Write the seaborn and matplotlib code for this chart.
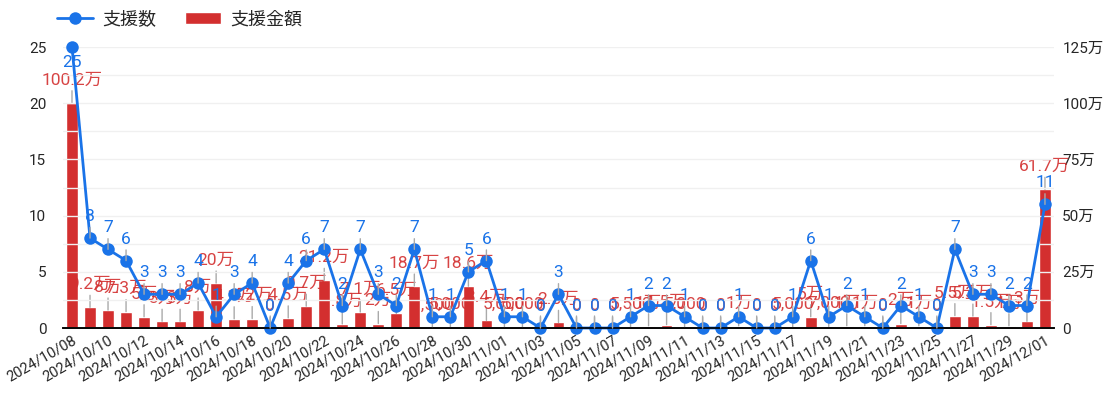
import numpy as np
import pandas as pd
import seaborn as sns
import matplotlib.pyplot as plt
from matplotlib.ticker import MultipleLocator, FuncFormatter

# daily values, 2024/10/08 .. 2024/12/01
dates = pd.date_range("2024-10-08", "2024-12-01", freq="D").strftime("%Y/%m/%d").tolist()
counts = [25, 8, 7, 6, 3, 3, 3, 4, 1, 3, 4, 0, 4, 6, 7, 2, 7, 3, 2, 7,
          1, 1, 5, 6, 1, 1, 0, 3, 0, 0, 0, 1, 2, 2, 1, 0, 0, 1, 0, 0,
          1, 6, 1, 2, 1, 0, 2, 1, 0, 7, 3, 3, 2, 2, 11]
# amounts in 万 (10,000 yen)
amounts = [100.2, 9.2, 8.0, 7.3, 5.0, 3.0, 3.0, 8.0, 20, 4.1, 4.2, 0, 4.5, 9.7, 21.2, 1.8, 7.1, 2, 6.5, 18.7,
           0.15, 0.5, 18.6, 3.4, 0.5, 0.5, 0, 2.5, 0, 0, 0, 0.55, 1, 1.5, 0.5, 0, 0, 1, 0, 0,
           0.5, 5, 0.7, 1, 1, 0, 2, 1, 0, 5.5, 5.3, 1.5, 1, 3, 61.7]

BLUE = "#1a73e8"
RED = "#d32f2f"
FONTS = ["Roboto", "Noto Sans CJK JP", "DejaVu Sans"]

sns.set_theme(style="white")
plt.rcParams["font.family"] = FONTS
plt.rcParams["axes.unicode_minus"] = False

df = pd.DataFrame({"date": dates, "count": counts, "amount": amounts})
df["pos"] = np.arange(len(df))

fig = plt.figure(figsize=(11.07, 3.96), dpi=100)
ax = fig.add_axes([0.0569, 0.1717, 0.8952, 0.7096])  # bars (right axis)
ax2 = ax.twinx()  # line (left axis)

sns.barplot(data=df, x="pos", y="amount", color=RED, width=0.65, ax=ax,
            saturation=1, label="支援金額", legend=False)
sns.lineplot(data=df, x="pos", y="count", color=BLUE, marker="o", markersize=9,
             markeredgewidth=0, linewidth=2, ax=ax2, label="支援数", legend=False)
for l in ax2.lines:
    l.set_clip_on(False)

ax.set_xlim(-0.5, len(df) - 0.5)
ax.set_ylim(0, 125)
ax2.set_ylim(0, 25)

# right axis = amounts, left axis = counts
ax.yaxis.tick_right()
ax2.yaxis.tick_left()
ax.yaxis.set_major_locator(MultipleLocator(25))
ax.yaxis.set_major_formatter(FuncFormatter(lambda v, p: "0" if v == 0 else f"{int(v)}万"))
ax2.yaxis.set_major_locator(MultipleLocator(5))
ax2.yaxis.set_minor_locator(MultipleLocator(2.5))
ax2.grid(which="both", axis="y", color="#f0f0f0", linewidth=1)
ax2.set_axisbelow(True)
ax.set_zorder(0)
ax2.set_zorder(1)
ax2.patch.set_visible(False)

ax.set_xticks(df["pos"][::2])
ax.set_xticklabels(df["date"][::2], rotation=30, ha="right", rotation_mode="anchor", fontsize=10.5)
ax.tick_params(axis="x", length=0, pad=4)
ax.tick_params(axis="y", length=0, labelsize=11, pad=6)
ax2.tick_params(axis="y", which="both", length=0, labelsize=11, pad=12)
ax.set_xlabel("")
ax.set_ylabel("")
ax2.set_xlabel("")
ax2.set_ylabel("")
for a in (ax, ax2):
    for s in ("top", "left", "right"):
        a.spines[s].set_visible(False)
    a.spines["bottom"].set_color("black")
    a.spines["bottom"].set_linewidth(1.2)


def fmt_amount(v):
    if v == 0:
        return "0"
    if v < 1:
        return f"{int(round(v * 10000)):,}"
    return f"{v:g}万"


lead = dict(arrowstyle="-", color="#aaaaaa", lw=1, shrinkA=0, shrinkB=0)
for i, (c, a) in enumerate(zip(counts, amounts)):
    ax.annotate(fmt_amount(a), xy=(i, a), xytext=(0, 11), textcoords="offset points",
                ha="center", va="bottom", color=RED, fontsize=12.5, alpha=0.9,
                arrowprops=lead, annotation_clip=False)
    off = (0, -6) if c == 25 else (0, 10)
    ax2.annotate(str(c), xy=(i, c), xytext=off, textcoords="offset points",
                 ha="center", va="top" if c == 25 else "bottom", color=BLUE, fontsize=12.5,
                 arrowprops=None if c == 25 else lead, annotation_clip=False)

# legend at top left
h1, l1 = ax2.get_legend_handles_labels()
h2, l2 = ax.get_legend_handles_labels()
fig.legend(h1 + h2, l1 + l2, loc="upper left", bbox_to_anchor=(0.037, 1.015), ncol=2,
           frameon=False, fontsize=13, handlelength=2.0, handletextpad=0.5,
           columnspacing=1.6)

fig.savefig("out.png", dpi=100)
